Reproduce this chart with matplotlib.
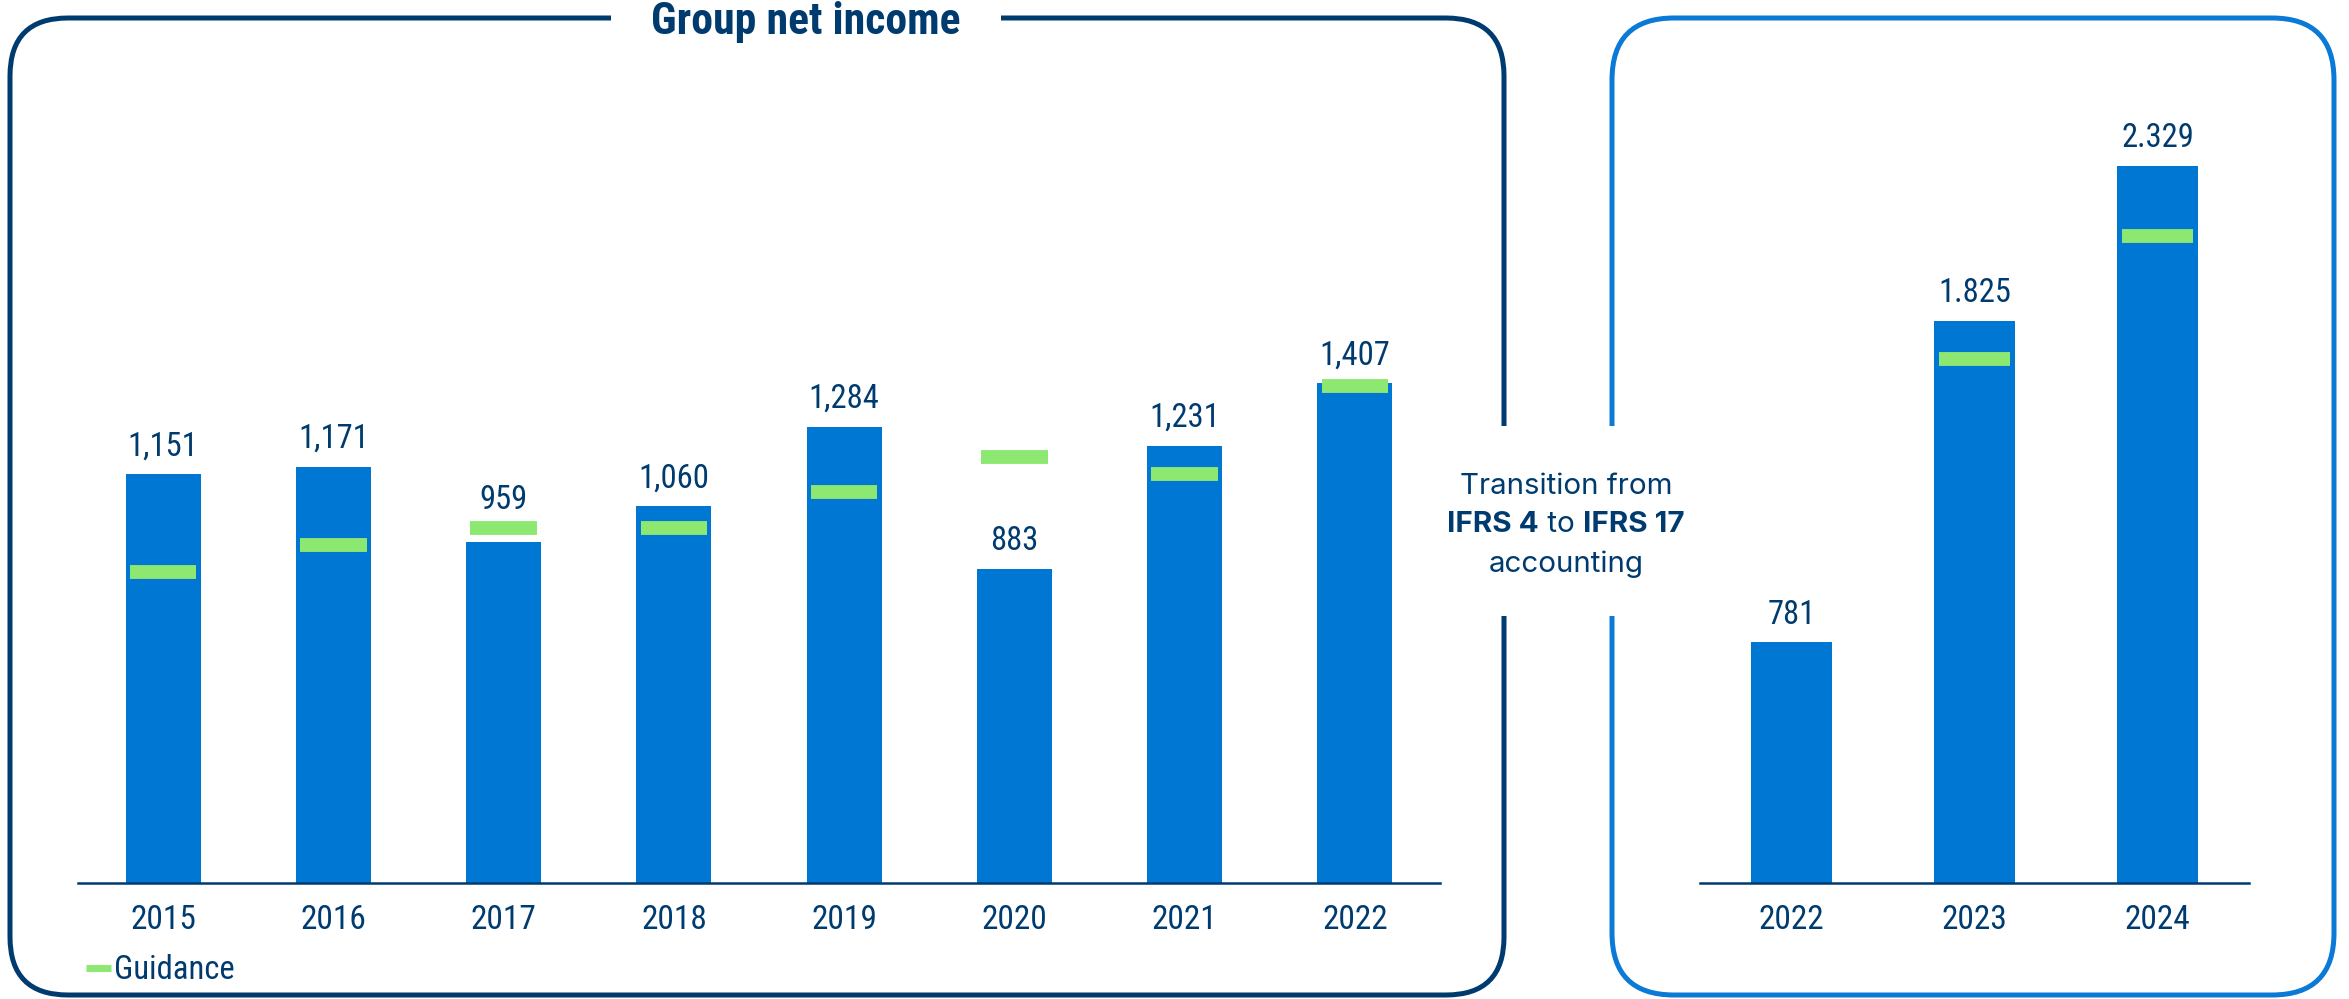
import matplotlib
matplotlib.use("Agg")
import matplotlib.pyplot as plt
from matplotlib.lines import Line2D
from matplotlib.patches import FancyBboxPatch, Rectangle
import numpy as np

# Group net income under IFRS 4 (EUR m) and guidance for each year
years_ifrs4 = ["2015", "2016", "2017", "2018", "2019", "2020", "2021", "2022"]
income_ifrs4 = [1151, 1171, 959, 1060, 1284, 883, 1231, 1407]
guidance_ifrs4 = [875, 950, 1000, 1000, 1100, 1200, 1150, 1400]

# Group net income under IFRS 17
years_ifrs17 = ["2022", "2023", "2024"]
income_ifrs17 = [781, 1825, 2329]
guidance_ifrs17 = [np.nan, 1700, 2100]

NAVY = "#003B6F"
BLUE = "#0077D3"
FRAME_BLUE = "#0A7AD6"
GREEN = "#8DE872"

NARROW = ["Roboto Condensed", "Liberation Sans Narrow", "Liberation Sans", "DejaVu Sans"]
PLAIN = ["Inter", "DejaVu Sans"]
plt.rcParams["font.family"] = NARROW

fig = plt.figure(figsize=(23.49, 9.99), dpi=100)

# background layer in pixel units for the framed boxes and free text
bg = fig.add_axes([0, 0, 1, 1], zorder=0)
bg.set_xlim(0, 2349)
bg.set_ylim(999, 0)
bg.axis("off")

bg.add_patch(FancyBboxPatch((10, 18), 1494, 977, boxstyle="round,pad=0,rounding_size=58",
                            fc="none", ec=NAVY, lw=3.6))
bg.add_patch(FancyBboxPatch((1612, 18), 722, 977, boxstyle="round,pad=0,rounding_size=62",
                            fc="none", ec=FRAME_BLUE, lw=3.6))
# gaps in the frames for the title and the transition note
bg.add_patch(Rectangle((611, 5), 390, 26, fc="white", ec="none", zorder=3))
bg.add_patch(Rectangle((1495, 426), 125, 190, fc="white", ec="none", zorder=3))

bg.text(806, 22, "Group net income", ha="center", va="center", fontsize=31.5,
        fontweight="bold", color=NAVY, zorder=4)

# transition note, middle line mixes bold and regular weights
cx = 1566
fs_note = 21.3
bg.text(cx, 486, "Transition from", ha="center", va="center", fontsize=fs_note,
        family=PLAIN, color=NAVY, zorder=4)
bg.text(cx, 564, "accounting", ha="center", va="center", fontsize=fs_note,
        family=PLAIN, color=NAVY, zorder=4)
pieces = [("IFRS 4", "bold"), (" to ", "normal"), ("IFRS 17", "bold")]
renderer = fig.canvas.get_renderer()
texts = []
for s, w in pieces:
    t = bg.text(0, 525, s, ha="left", va="center", fontsize=fs_note, family=PLAIN,
                fontweight=w, color=NAVY, zorder=4)
    texts.append(t)
widths = [t.get_window_extent(renderer).width for t in texts]
x0 = cx - sum(widths) / 2
for t, w in zip(texts, widths):
    t.set_x(x0)
    x0 += w


def draw_panel(ax, labels, values, guidance, fmt, ymax):
    x = np.arange(len(labels))
    ax.bar(x, values, width=0.44, color=BLUE, zorder=2)
    g = np.array(guidance, dtype=float)
    ok = ~np.isnan(g)
    lc = ax.hlines(g[ok], x[ok] - 0.195, x[ok] + 0.195, colors=GREEN, lw=10, zorder=3)
    lc.set_capstyle("butt")
    for xi, v, gv in zip(x, values, g):
        # lift the label over a guidance mark sitting just above the bar
        anchor = gv if (not np.isnan(gv) and v < gv < v + 100) else v
        ax.annotate(fmt(v), (xi, anchor), xytext=(0, 20), textcoords="offset points",
                    ha="center", va="center", fontsize=23.5, color=NAVY)
    ax.set_xlim(-0.5, len(labels) - 0.5)
    ax.set_ylim(0, ymax)
    ax.set_xticks(x)
    ax.set_xticklabels(labels)
    ax.set_yticks([])
    ax.tick_params(axis="x", length=0, pad=15, labelsize=24, labelcolor=NAVY)
    for side in ["left", "top", "right"]:
        ax.spines[side].set_visible(False)
    ax.spines["bottom"].set_color(NAVY)
    ax.spines["bottom"].set_linewidth(1.8)
    ax.patch.set_alpha(0)


ax1 = fig.add_axes([78 / 2349, 116 / 999, 1362 / 2349, 533 / 999], zorder=2)
draw_panel(ax1, years_ifrs4, income_ifrs4, guidance_ifrs4, lambda v: f"{v:,}", 1500)

ax2 = fig.add_axes([1700 / 2349, 116 / 999, 549 / 2349, 770 / 999], zorder=2)
draw_panel(ax2, years_ifrs17, income_ifrs17, guidance_ifrs17,
           lambda v: f"{v:,}".replace(",", "."), 2500)

ax1.legend(handles=[Line2D([], [], color=GREEN, lw=5, solid_capstyle="butt")],
           labels=["Guidance"], loc="center left", bbox_to_anchor=(73 / 2349, 29 / 999),
           bbox_transform=fig.transFigure, frameon=False, handlelength=0.75,
           handletextpad=0.12, fontsize=23.5, labelcolor=NAVY, borderaxespad=0)

fig.savefig("out.png", dpi=100)
